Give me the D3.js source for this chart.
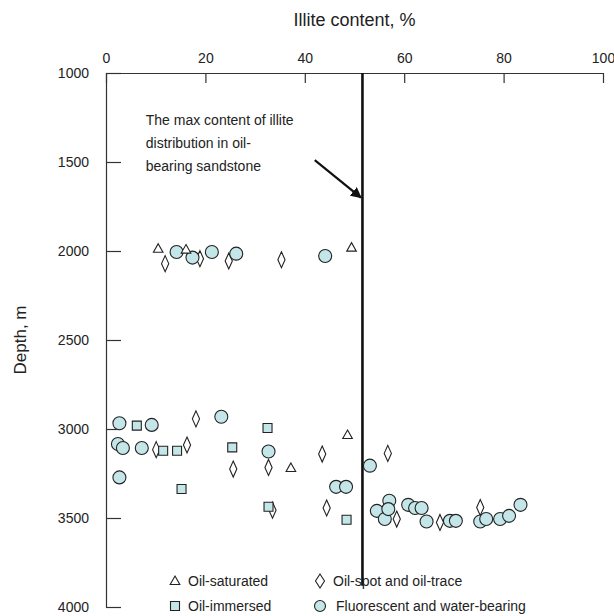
<!DOCTYPE html>
<html>
<head>
<meta charset="utf-8">
<script src="https://cdn.jsdelivr.net/npm/d3@7"></script>
<style>
  body { margin: 0; background: #fff; }
  svg text { font-family: "Liberation Sans", Arial, sans-serif; fill: #222; }
</style>
</head>
<body>
<div id="chart"></div>
<script>
// illite content (%) and depth (m)
var saturated = [[10.5,1987],[16.1,1992],[49.4,1981],[48.6,3034],[37.2,3219]];
var immersed = [[6.2,2981],[32.5,2994],[11.5,3122],[14.3,3122],[25.4,3103],[15.2,3337],[32.7,3437],[48.4,3510]];
var spotTrace = [[11.9,2071],[18.9,2043],[24.7,2056],[35.3,2049],[18.1,2943],[10.1,3116],[16.3,3090],
  [25.6,3225],[32.7,3216],[33.5,3456],[43.5,3141],[56.7,3137],[44.4,3444],[58.5,3506],[67.2,3525],[75.3,3441]];
var fluorescent = [[14.2,2006],[17.4,2037],[21.3,2006],[26.2,2015],[44.1,2028],[2.7,2968],[9.2,2977],
  [23.2,2931],[2.4,3084],[3.4,3107],[7.2,3107],[32.7,3126],[2.7,3272],[53.1,3206],[46.3,3325],[48.3,3325],
  [54.5,3460],[56.1,3506],[57.0,3403],[56.8,3450],[60.8,3426],[62.2,3444],[63.5,3444],[64.5,3520],
  [69.2,3516],[70.4,3516],[75.3,3520],[76.5,3506],[79.3,3506],[81.1,3488],[83.4,3426]];
var xTicks = [0, 20, 40, 60, 80, 100];
var yTicks = [1000, 1500, 2000, 2500, 3000, 3500, 4000];
var maxLine = [[51.6, 1000], [51.6, 3880]];
var arrowPts = [[42, 1490], [51.3, 1700]];
var noteLines = ["The max content of illite", "distribution in oil-", "bearing sandstone"];
var legendNames = ["Oil-saturated", "Oil-immersed", "Oil-spot and oil-trace", "Fluorescent and water-bearing"];

var fillCyan = "#c4e6e9";
var ink = "#222";

var svg = d3.select("#chart").append("svg")
  .attr("width", 614).attr("height", 616);

var x = d3.scaleLinear().domain([0, 100]).range([106, 603]);
var y = d3.scaleLinear().domain([1000, 4000]).range([73, 607]);

// shapes
var triPath = "M0,-5L4.8,3.5L-4.8,3.5Z";
var sqPath = "M-4.5,-4.5H4.5V4.5H-4.5Z";
var diaPath = "M0,-8L3.6,0L0,8L-3.6,0Z";

// top axis
var xAxis = svg.append("g")
  .attr("transform", "translate(0," + y(1000) + ")")
  .call(d3.axisTop(x).tickValues(xTicks).tickSize(-10).tickSizeOuter(0).tickPadding(10));
// left axis
var yAxis = svg.append("g")
  .attr("transform", "translate(" + x(0) + ",0)")
  .call(d3.axisLeft(y).tickValues(yTicks).tickFormat(d3.format("d"))
    .tickSize(-15).tickSizeOuter(0).tickPadding(17));
[xAxis, yAxis].forEach(function(a){
  a.selectAll("path, line").attr("stroke", "#333").attr("stroke-width", 1.2);
  a.selectAll("text").style("font-size", "14px").attr("fill", ink);
});

svg.append("text").text("Illite content, %")
  .attr("x", x(50)).attr("y", 26).attr("text-anchor", "middle").style("font-size", "18px");
svg.append("text").text("Depth, m")
  .attr("transform", "translate(26," + y(2500) + ") rotate(-90)")
  .attr("text-anchor", "middle").style("font-size", "17px");

// max content line
svg.append("line")
  .attr("x1", x(maxLine[0][0])).attr("y1", y(maxLine[0][1]))
  .attr("x2", x(maxLine[1][0])).attr("y2", y(maxLine[1][1]))
  .attr("stroke", "#111").attr("stroke-width", 2.6);

// annotation
svg.append("defs").append("marker")
  .attr("id", "arr").attr("viewBox", "0 0 10 10").attr("refX", 9).attr("refY", 5)
  .attr("markerWidth", 5).attr("markerHeight", 5).attr("orient", "auto")
  .append("path").attr("d", "M0,0L10,5L0,10Z").attr("fill", "#111");
svg.append("line")
  .attr("x1", x(arrowPts[0][0])).attr("y1", y(arrowPts[0][1]))
  .attr("x2", x(arrowPts[1][0])).attr("y2", y(arrowPts[1][1]))
  .attr("stroke", "#111").attr("stroke-width", 2.2).attr("marker-end", "url(#arr)");
svg.append("g").selectAll("text").data(noteLines).enter().append("text")
  .text(function(d){ return d; })
  .attr("x", x(8)).attr("y", function(d, i){ return y(1290) + i * 23; })
  .style("font-size", "14px");

var drawSeries = function(data, path, fill){
  svg.append("g").selectAll("path").data(data).enter().append("path")
    .attr("d", path)
    .attr("transform", function(d){ return "translate(" + x(d[0]) + "," + y(d[1]) + ")"; })
    .attr("fill", fill).attr("stroke", ink).attr("stroke-width", 1.1);
};
drawSeries(spotTrace, diaPath, "#fff");
drawSeries(immersed, sqPath, fillCyan);
svg.append("g").selectAll("circle").data(fluorescent).enter().append("circle")
  .attr("cx", function(d){ return x(d[0]); })
  .attr("cy", function(d){ return y(d[1]); })
  .attr("r", 6.5)
  .attr("fill", fillCyan).attr("stroke", ink).attr("stroke-width", 1.1);
drawSeries(saturated, triPath, "#fff");

// legend
var legendPos = [[175, 582], [175, 607], [320, 582], [320, 607]];
var legendShapes = [triPath, sqPath, "M0,-7L4.5,0L0,7L-4.5,0Z", null];
var legendFills = ["#fff", fillCyan, "#fff", fillCyan];
var lg = svg.append("g");
legendNames.forEach(function(name, i){
  var p = legendPos[i];
  if (legendShapes[i]) {
    lg.append("path").attr("d", legendShapes[i])
      .attr("transform", "translate(" + p[0] + "," + (p[1] - 1) + ")")
      .attr("fill", legendFills[i]).attr("stroke", ink).attr("stroke-width", 1.1);
  } else {
    lg.append("circle").attr("cx", p[0]).attr("cy", p[1] - 1).attr("r", 5.5)
      .attr("fill", legendFills[i]).attr("stroke", ink).attr("stroke-width", 1.1);
  }
  lg.append("text").text(name)
    .attr("x", p[0] + (i === 3 ? 16 : 13)).attr("y", p[1] + 4)
    .style("font-size", "14px");
});
</script>
</body>
</html>
